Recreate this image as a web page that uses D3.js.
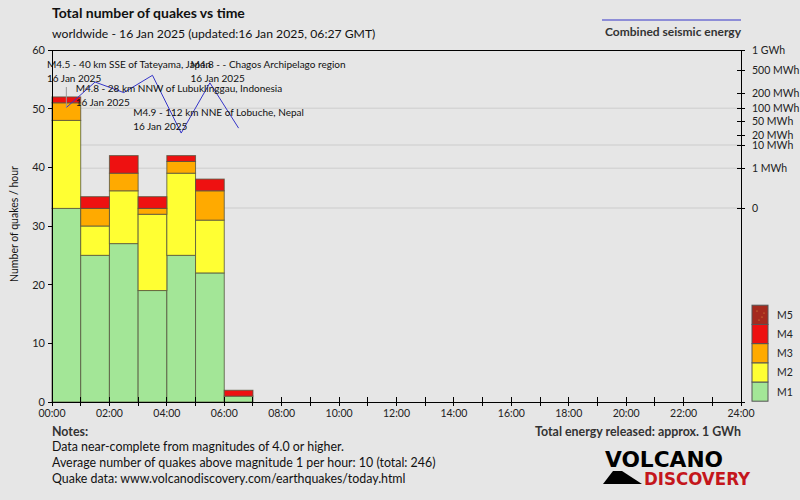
<!DOCTYPE html>
<html><head><meta charset="utf-8">
<script src="https://cdn.jsdelivr.net/npm/d3@7"></script>
<style>
html,body{margin:0;padding:0;background:#e6e6e6;}
svg{display:block;font-family:Lato,"Open Sans",sans-serif;}
</style></head><body>
<svg id="c" width="800" height="500"></svg>
<script>
// ---- data ----
const hourStarts = [0,1,2,3,4,5,6];
const m1 = [33,25,27,19,25,22,1];
const m2 = [15,5,9,13,14,9,0];
const m3 = [3,3,3,1,2,5,0];
const m4 = [1,2,3,2,1,2,1];
const m5 = [0,0,0,0,0,0,0];
const energyMWh = [104,322,208,418,24,312,33];
const countTicks = [0,10,20,30,40,50,60];
const timeTickLabels = ["00:00","02:00","04:00","06:00","08:00","10:00","12:00","14:00","16:00","18:00","20:00","22:00","24:00"];
const energyTicks = [0,1,10,20,50,100,200,500,1000];
const energyTickLabels = ["0","1 MWh","10 MWh","20 MWh","50 MWh","100 MWh","200 MWh","500 MWh","1 GWh"];
const energyGrid = [0,1,10,100];
const quakeLabels = ["M4.5 - 40 km SSE of Tateyama, Japan","M4.8 - 28 km NNW of Lubuklinggau, Indonesia","M4.9 - 112 km NNE of Lobuche, Nepal","M4.8 - - Chagos Archipelago region"];
const quakeHours = [0,1,3,5];
const quakeRows = [0,1,2,0];
const quakeDates = ["16 Jan 2025","16 Jan 2025","16 Jan 2025","16 Jan 2025"];
const magNames = ["M1","M2","M3","M4","M5"];
const magColors = ["#a3e697","#ffff33","#ffaa00","#ee1111","#a52a1e"];

const svg = d3.select("#c");
const L=52, R=741, T=50, B=402;
const x = d3.scaleLinear().domain([0,24]).range([L,R]);
const y = d3.scaleLinear().domain([0,60]).range([B,T]);
const ye = d3.scalePow().exponent(0.2).domain([0,1000]).range([208,50]);

// gridlines
svg.append("g").selectAll("line").data(energyGrid).join("line")
  .attr("x1",L).attr("x2",R).attr("y1",d=>ye(d)).attr("y2",d=>ye(d))
  .attr("stroke","#d5d5d5").attr("stroke-width",1.5);

// stacked bars
const rows = hourStarts.map((h,i)=>({h, M1:m1[i],M2:m2[i],M3:m3[i],M4:m4[i],M5:m5[i]}));
const stack = d3.stack().keys(magNames)(rows);
const bars = svg.append("g");
stack.forEach((layer,k)=>{
  bars.append("g").selectAll("rect").data(layer.filter(d=>d[1]>d[0])).join("rect")
    .attr("x",d=>x(d.data.h)).attr("width",d=>x(d.data.h+1)-x(d.data.h))
    .attr("y",d=>y(d[1])).attr("height",d=>y(d[0])-y(d[1]))
    .attr("fill",magColors[k]).attr("stroke","#55553f").attr("stroke-opacity",0.8).attr("stroke-width",1);
});

// axes lines
const ax = svg.append("g").attr("stroke","#000").attr("stroke-width",1).attr("shape-rendering","crispEdges");
ax.append("line").attr("x1",L).attr("x2",R).attr("y1",T).attr("y2",T);
ax.append("line").attr("x1",L).attr("x2",L).attr("y1",T).attr("y2",B);
ax.append("line").attr("x1",R).attr("x2",R).attr("y1",T).attr("y2",B);
ax.append("line").attr("x1",L-4).attr("x2",R+4).attr("y1",B).attr("y2",B);

// left ticks
svg.append("g").selectAll("line").data(countTicks).join("line")
  .attr("x1",L-4).attr("x2",L).attr("y1",d=>y(d)).attr("y2",d=>y(d)).attr("stroke","#000").attr("shape-rendering","crispEdges");
svg.append("g").selectAll("text").data(countTicks).join("text")
  .attr("x",L-7).attr("y",d=>y(d)+4).attr("text-anchor","end").attr("font-size",11).attr("fill","#222").text(d=>d);

// bottom ticks
svg.append("g").selectAll("line").data(d3.range(0,25)).join("line")
  .attr("x1",d=>x(d)).attr("x2",d=>x(d)).attr("y1",B-5).attr("y2",B+4).attr("stroke","#000").attr("shape-rendering","crispEdges");
svg.append("g").selectAll("text").data(timeTickLabels).join("text")
  .attr("x",(d,i)=>x(i*2)).attr("y",B+15).attr("text-anchor","middle").attr("font-size",10.5).attr("fill","#222").text(d=>d);

// right energy ticks
svg.append("g").selectAll("line").data(energyTicks).join("line")
  .attr("x1",R-4).attr("x2",R+4).attr("y1",d=>ye(d)).attr("y2",d=>ye(d)).attr("stroke","#000").attr("shape-rendering","crispEdges");
svg.append("g").selectAll("text").data(energyTicks).join("text")
  .attr("x",R+11).attr("y",d=>ye(d)+3.5).attr("font-size",10.5).attr("fill","#222").text((d,i)=>energyTickLabels[i]);

// energy line
svg.append("path").datum(hourStarts)
  .attr("d",d3.line().x(h=>x(h+0.5)).y((h,i)=>ye(energyMWh[i])))
  .attr("fill","none").attr("stroke","#3535c8").attr("stroke-width",1);

// annotation pointer (first quake)
svg.append("line").attr("x1",x(quakeHours[0]+0.5)).attr("x2",x(quakeHours[0]+0.5))
  .attr("y1",87).attr("y2",ye(energyMWh[quakeHours[0]])).attr("stroke","#999").attr("stroke-width",1);

// annotations
const ann = svg.append("g").attr("font-size",10).attr("fill","#111");
quakeLabels.forEach((t,i)=>{
  const xx = x(quakeHours[i])-5, yy = 68+quakeRows[i]*24;
  ann.append("text").attr("x",xx).attr("y",yy).text(t);
  ann.append("text").attr("x",xx).attr("y",yy+14).text(quakeDates[i]);
});

// titles
svg.append("text").attr("x",52).attr("y",18).attr("font-size",14).attr("font-weight","bold").attr("fill","#111").text("Total number of quakes vs time");
svg.append("text").attr("x",52).attr("y",38).attr("font-size",12.2).attr("fill","#111").text("worldwide - 16 Jan 2025 (updated:16 Jan 2025, 06:27 GMT)");
svg.append("text").attr("transform","translate(18,224) rotate(-90)").attr("text-anchor","middle").attr("font-size",10.5).attr("fill","#111").text("Number of quakes / hour");

// energy legend
svg.append("line").attr("x1",602).attr("x2",R).attr("y1",20).attr("y2",20).attr("stroke","#3535c8").attr("stroke-width",1);
svg.append("text").attr("x",R).attr("y",36).attr("text-anchor","end").attr("font-size",12).attr("font-weight","bold").attr("fill","#333").text("Combined seismic energy");

// magnitude legend
const lg = svg.append("g");
magNames.forEach((m,i)=>{
  const yy = 382 - i*19.2;
  lg.append("rect").attr("x",752).attr("y",yy).attr("width",16).attr("height",19.2)
    .attr("fill",magColors[i]).attr("stroke","#555").attr("stroke-width",1);
  lg.append("text").attr("x",777).attr("y",yy+13.5).attr("font-size",10.5).attr("fill","#222").text(m);
});
[[757,311],[762,317],[759,320],[764,313]].forEach(p=>lg.append("circle").attr("cx",p[0]).attr("cy",p[1]).attr("r",0.6).attr("fill","#e0a040"));

// notes
const nt = svg.append("g").attr("fill","#111");
nt.append("text").attr("x",52).attr("y",436).attr("font-size",12.4).attr("font-weight","bold").attr("fill","#333").text("Notes:");
["Data near-complete from magnitudes of 4.0 or higher.","Average number of quakes above magnitude 1 per hour: 10 (total: 246)","Quake data: www.volcanodiscovery.com/earthquakes/today.html"]
  .forEach((t,i)=>nt.append("text").attr("x",52).attr("y",451+i*16).attr("font-size",12.4).text(t));
svg.append("text").attr("x",R).attr("y",436).attr("text-anchor","end").attr("font-size",12.4).attr("font-weight","bold").attr("fill","#333").text("Total energy released: approx. 1 GWh");

// logo
const lo = svg.append("g");
lo.append("path").attr("d","M603,484 L613,471 L622,471 L642,484 Z").attr("fill","#000");
lo.append("text").attr("x",605).attr("y",467).attr("font-size",21).attr("font-weight","bold")
  .attr("font-family","'Liberation Sans Narrow','DejaVu Sans Condensed',sans-serif")
  .attr("textLength",118).attr("lengthAdjust","spacingAndGlyphs").attr("fill","#000").text("VOLCANO");
lo.append("text").attr("x",644).attr("y",485).attr("font-size",18).attr("font-weight","bold")
  .attr("font-family","'Liberation Sans Narrow','DejaVu Sans Condensed',sans-serif")
  .attr("textLength",106).attr("lengthAdjust","spacingAndGlyphs").attr("fill","#c4161c").text("DISCOVERY");
</script>
</body></html>
